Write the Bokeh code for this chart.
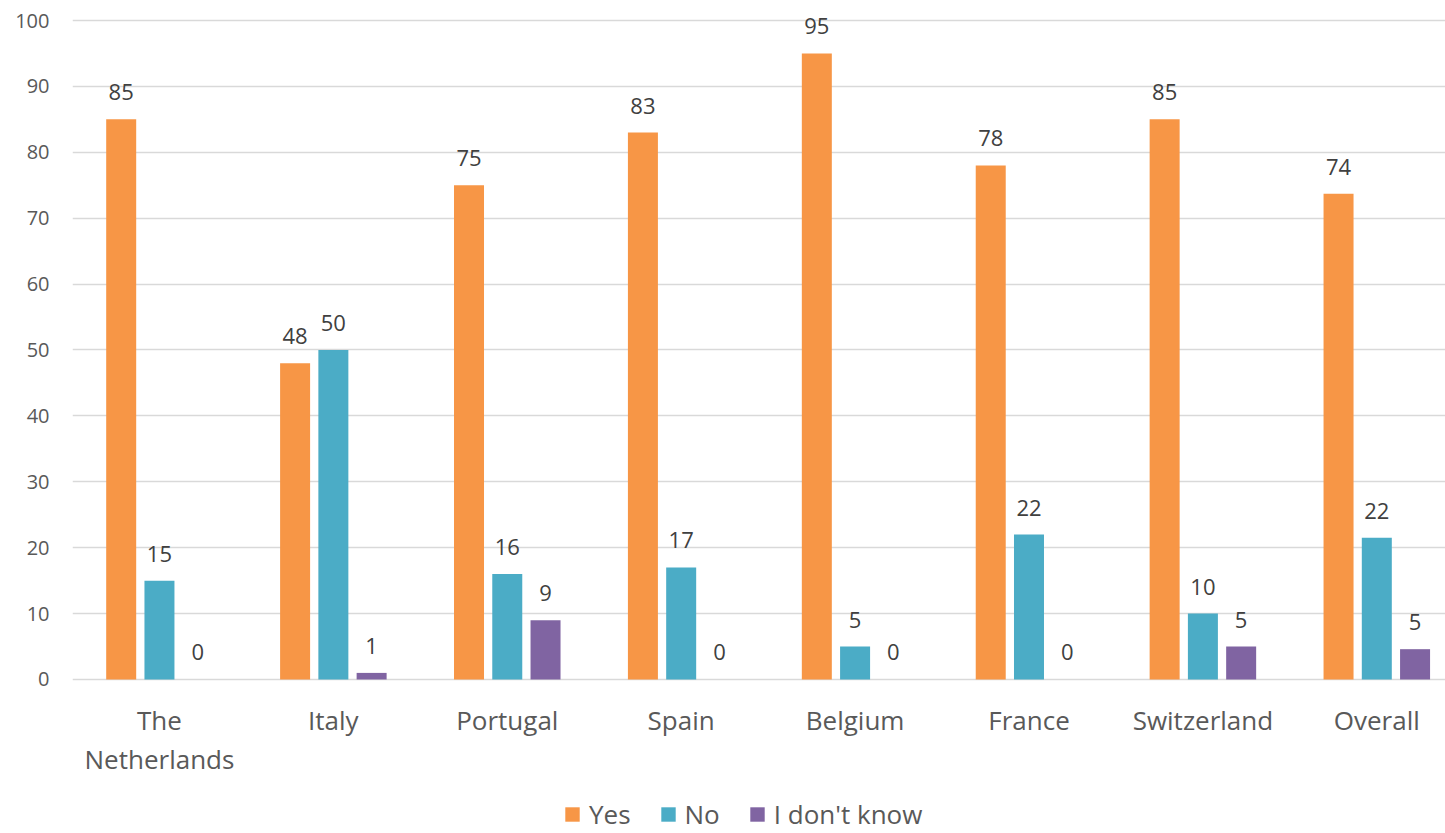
from bokeh.plotting import figure
from bokeh.models import ColumnDataSource, Range1d, Legend, LegendItem, FixedTicker
from bokeh.core.properties import value
from bokeh.embed import file_html
from bokeh.resources import INLINE

categories = ["The\nNetherlands", "Italy", "Portugal", "Spain", "Belgium", "France", "Switzerland", "Overall"]
yes_vals = [85, 48, 75, 83, 95, 78, 85, 73.7]
no_vals = [15, 50, 16, 17, 5, 22, 10, 21.5]
idk_vals = [0, 1, 9, 0, 0, 0, 5, 4.6]
series_names = ["Yes", "No", "I don't know"]
y_ticks = [0, 10, 20, 30, 40, 50, 60, 70, 80, 90, 100]
colors = ["#F79646", "#4BACC6", "#8064A2"]

FONT = "Open Sans"
centers = [i + 0.5 for i in range(len(categories))]

# frame covers the whole window height so labels and legend sit inside it
p = figure(x_range=Range1d(0, 7.895), y_range=Range1d(-23.37, 103.035),
           width=1445, height=833, output_backend="svg", toolbar_location=None,
           min_border_left=72, min_border_right=0, min_border_top=0, min_border_bottom=0,
           frame_width=1373, frame_height=833)
p.outline_line_color = None
p.background_fill_color = "white"
p.border_fill_color = "white"

renderers = []
for vals, off, col in zip([yes_vals, no_vals, idk_vals], [-0.22, 0.0, 0.22], colors):
    src = ColumnDataSource(dict(x=[c + off for c in centers], top=vals,
                                lab=[str(round(v)) for v in vals]))
    r = p.vbar(x="x", top="top", width=0.1725, bottom=0, source=src,
               fill_color=col, line_color=None)
    renderers.append(r)
    p.text(x="x", y="top", text="lab", source=src,
           text_align="center", text_baseline="bottom", y_offset=-19,
           text_font=value(FONT), text_font_size="22px", text_color="#404040")

p.yaxis.ticker = FixedTicker(ticks=y_ticks)
p.xaxis.ticker = FixedTicker(ticks=centers)
p.xaxis.major_label_overrides = {c: lab for c, lab in zip(centers, categories)}
p.xaxis.fixed_location = 0
p.ygrid.grid_line_color = "#D9D9D9"
p.ygrid.grid_line_width = 1.5
p.xgrid.grid_line_color = None
for ax in (p.xaxis, p.yaxis):
    ax.axis_line_color = None
    ax.major_tick_line_color = None
    ax.minor_tick_line_color = None
    ax.major_label_text_color = "#595959"
    ax.major_label_text_font = FONT
p.yaxis.major_label_text_font_size = "20px"
p.yaxis.major_label_standoff = 17
p.xaxis.major_label_text_font_size = "26px"
p.xaxis.major_label_text_line_height = 1.07
p.xaxis.major_label_standoff = 17

legend = Legend(items=[LegendItem(label=n, renderers=[r]) for n, r in zip(series_names, renderers)],
                orientation="horizontal", location=(491, 1),
                label_text_font=FONT, label_text_font_size="26px", label_text_color="#595959",
                glyph_width=18, glyph_height=18, spacing=28, label_standoff=8,
                border_line_color=None, background_fill_alpha=0, margin=0, padding=0)
p.add_layout(legend, "center")

open("out.html", "w").write(file_html(p, INLINE))
